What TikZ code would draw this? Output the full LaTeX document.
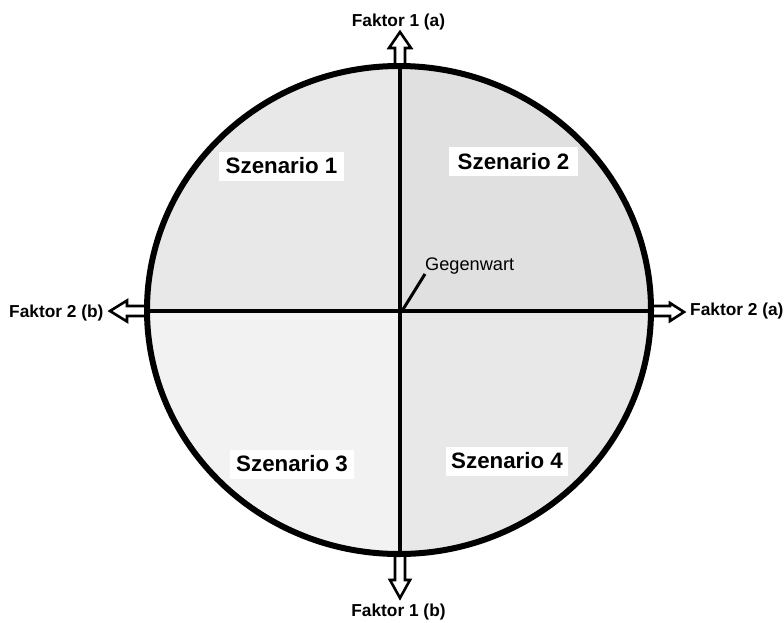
\documentclass[tikz,border=0pt]{standalone}
\usepackage{fontspec}
\setmainfont{Liberation Sans}
\definecolor{qa}{RGB}{232,232,232}
\definecolor{qb}{RGB}{224,224,224}
\definecolor{qc}{RGB}{242,242,242}
\definecolor{qd}{RGB}{232,232,232}
\tikzset{
  hollowarrow/.style={draw=black, fill=white, line width=2.6pt, line join=miter},
  axisline/.style={draw=black, line width=4pt},
  rim/.style={draw=black, line width=6pt},
  factorlabel/.style={inner sep=0pt, font=\fontsize{17.3}{19}\selectfont\bfseries},
  scenbox/.style={fill=white, inner sep=0pt, minimum height=29pt, font=\fontsize{22.3}{24}\selectfont\bfseries},
  nowlabel/.style={inner sep=0pt, font=\fontsize{18.2}{20}\selectfont},
  leader/.style={draw=black, line width=3pt}
}
\begin{document}
\begin{tikzpicture}[x=1pt,y=-1pt]
\useasboundingbox[fill=white] (0,0) rectangle (784,622);
\coordinate (O) at (399,310);
% quadrant fills
\begin{scope}
  \clip (O) ellipse [x radius=252, y radius=244];
  \fill[qa] (O) rectangle (140,60);
  \fill[qb] (O) rectangle (660,60);
  \fill[qc] (O) rectangle (140,560);
  \fill[qd] (O) rectangle (660,560);
\end{scope}
% hollow arrows
\path[hollowarrow] (395,66) -- (395,48) -- (389,48) -- (400,32) -- (411,48) -- (405,48) -- (405,66) -- cycle;
\path[hollowarrow] (395,553) -- (395,580) -- (390,580) -- (400,598) -- (410,580) -- (405,580) -- (405,553) -- cycle;
\path[hollowarrow] (148,306) -- (127,306) -- (127,300.5) -- (110,311) -- (127,321.5) -- (127,316) -- (148,316) -- cycle;
\path[hollowarrow] (650,306) -- (670,306) -- (670,303) -- (684,312) -- (670,321) -- (670,316) -- (650,316) -- cycle;
% rim and axes
\path[rim] (O) ellipse [x radius=252, y radius=244];
\coordinate (top) at (400,63);
\coordinate (bot) at (400,556);
\coordinate (lft) at (146,310.5);
\coordinate (rgt) at (652,310.5);
\path[axisline] (top) -- (bot);
\path[axisline] (lft) -- (rgt);
% labels
\node[factorlabel, anchor=base] (f1a) at (398.5,26) {Faktor 1 (a)};
\node[factorlabel, anchor=base] (f1b) at (398.5,616) {Faktor 1 (b)};
\node[factorlabel, anchor=base west] (f2b) at (9,317) {Faktor 2 (b)};
\node[factorlabel, anchor=base west] (f2a) at (690,315) {Faktor 2 (a)};
\node[scenbox, minimum width=125pt] (s1) at (281.5,166) {Szenario 1};
\node[scenbox, minimum width=129pt] (s2) at (513.5,161.5) {Szenario 2};
\node[scenbox, minimum width=124pt] (s3) at (292,464) {Szenario 3};
\node[scenbox, minimum width=122pt] (s4) at (507,461) {Szenario 4};
\node[nowlabel, anchor=base west] (now) at (425,270) {Gegenwart};
\coordinate (c) at (402,311);
\path[leader] (c) -- (now.south west);
\end{tikzpicture}
\end{document}
